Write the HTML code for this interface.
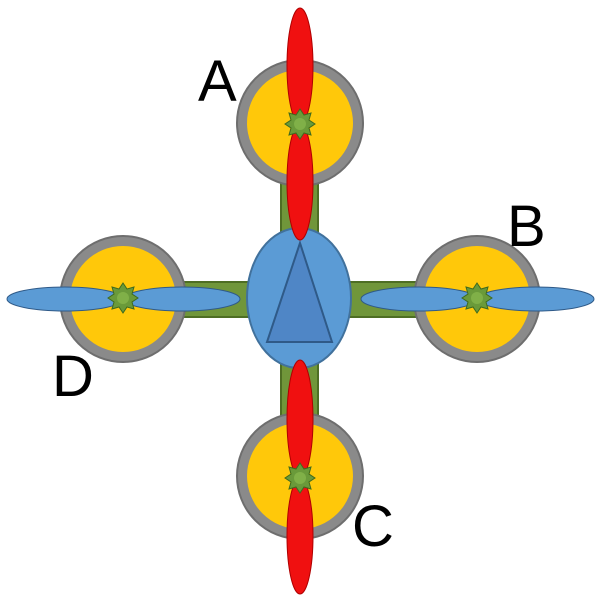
<!DOCTYPE html>
<html><head><style>body{margin:0;background:#fff}svg{display:block}</style></head><body>
<svg width="600" height="600" viewBox="0 0 600 600" xmlns="http://www.w3.org/2000/svg">
<defs>
<g id="star"><polygon points="0,-15 4,-9 11,-11 9,-4 15,0 9,4 11,11 4,9 0,15 -4,9 -11,11 -9,4 -15,0 -9,-4 -11,-11 -4,-9" fill="#6a9a3a" stroke="#3f6a1e" stroke-width="1"/><circle r="6" fill="#80b048"/></g>
<g id="motor"><circle r="63" fill="#8a8a8a" stroke="#6e6e6e" stroke-width="2"/><circle r="53" fill="#ffc80a"/></g>
</defs>
<rect x="281" y="160" width="37" height="260" fill="#70963a" stroke="#4e6e24" stroke-width="2"/>
<rect x="150" y="282" width="300" height="35" fill="#70963a" stroke="#4e6e24" stroke-width="2"/>
<use href="#motor" x="300" y="123"/>
<use href="#motor" x="123" y="299"/>
<use href="#motor" x="477" y="299"/>
<use href="#motor" x="300" y="476"/>
<ellipse cx="299" cy="298" rx="52" ry="70" fill="#5b9bd5" stroke="#41719c" stroke-width="2"/>
<polygon points="300,243 267,342 332,342" fill="#4f86c6" stroke="#2f5a88" stroke-width="2"/>
<ellipse cx="300" cy="66" rx="13" ry="58" fill="#f01010" stroke="#b00000"/>
<ellipse cx="300" cy="182" rx="13" ry="58" fill="#f01010" stroke="#b00000"/>
<ellipse cx="300" cy="419" rx="13" ry="59" fill="#f01010" stroke="#b00000"/>
<ellipse cx="300" cy="536" rx="13" ry="58" fill="#f01010" stroke="#b00000"/>
<ellipse cx="65" cy="299" rx="58" ry="12" fill="#5b9bd5" stroke="#2f5a88"/>
<ellipse cx="182" cy="299" rx="58" ry="12" fill="#5b9bd5" stroke="#2f5a88"/>
<ellipse cx="419" cy="299" rx="58" ry="12" fill="#5b9bd5" stroke="#2f5a88"/>
<ellipse cx="536" cy="299" rx="58" ry="12" fill="#5b9bd5" stroke="#2f5a88"/>
<use href="#star" x="300" y="124"/>
<use href="#star" x="123" y="298"/>
<use href="#star" x="477" y="298"/>
<use href="#star" x="300" y="478"/>
<g font-family="Liberation Sans, sans-serif" font-size="58" fill="#000">
<text x="198" y="101">A</text>
<text x="507" y="246">B</text>
<text x="352" y="546">C</text>
<text x="52" y="396">D</text>
</g>
</svg>
</body></html>
